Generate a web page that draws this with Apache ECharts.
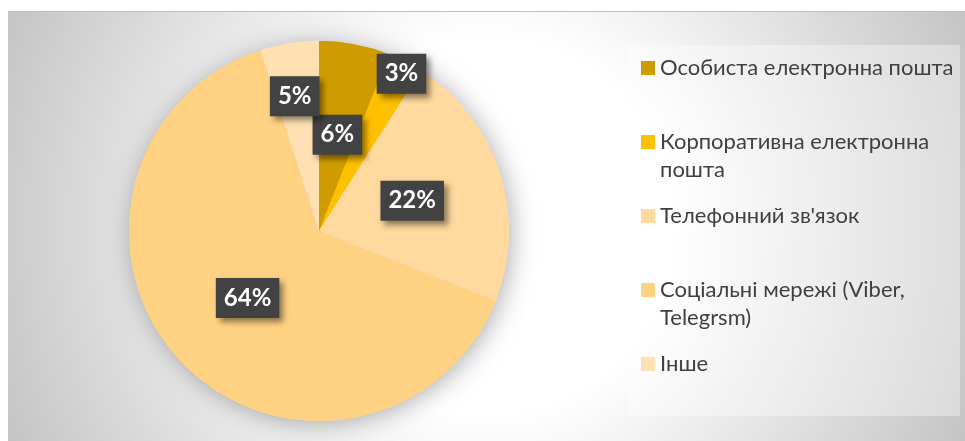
<!DOCTYPE html>
<html>
<head>
<meta charset="utf-8">
<script src="https://cdn.jsdelivr.net/npm/echarts@6/dist/echarts.min.js"></script>
<style>
  html, body { margin: 0; padding: 0; background: #fff; }
  #chart { width: 965px; height: 441px; }
</style>
</head>
<body>
<div id="chart"></div>
<script>
// Chart data
const categories = [
  'Особиста електронна пошта',
  'Корпоративна електронна пошта',
  'Телефонний зв\'язок',
  'Соціальні мережі (Viber, Telegrsm)',
  'Інше'
];
const shares = [6, 3, 22, 64, 5];
const colors = ['#cf9c00', '#ffc000', '#ffd99e', '#ffd283', '#ffe0b3'];
// legend text as it wraps in the picture
const legendLines = [
  'Особиста електронна пошта',
  'Корпоративна електронна\nпошта',
  'Телефонний зв\'язок',
  'Соціальні мережі (Viber,\nTelegrsm)',
  'Інше'
];
// nudges for the two labels that sit off the middle radius
const labelShift = [[0, 0], [38, -70], [0, 0], [0, 0], [-9, -38]];

const chart = echarts.init(document.getElementById('chart'));

const pieData = categories.map((name, i) => ({
  name,
  value: shares[i],
  itemStyle: { color: colors[i] }
}));

const legendTops = [54, 100, 202, 248, 350];
const legends = categories.map((name, i) => {
  const twoLines = legendLines[i].indexOf('\n') >= 0;
  // an empty leading line keeps the icon level with the first text line
  const text = twoLines ? '\n' + legendLines[i] : legendLines[i];
  return {
    data: [name],
    orient: 'vertical',
    left: 641,
    top: legendTops[i],
    padding: 0,
    icon: 'rect',
    itemWidth: 14,
    itemHeight: 14,
    selectedMode: false,
    formatter: () => text,
    textStyle: {
      fontFamily: 'Lato',
      fontSize: 22,
      lineHeight: 28,
      color: '#404040'
    }
  };
});

const option = {
  animation: false,
  backgroundColor: '#fff',
  graphic: [
    {
      type: 'rect',
      shape: { x: 8, y: 11, width: 957, height: 430 },
      style: {
        fill: {
          type: 'radial', x: 0.5, y: 0.5, r: 1.25,
          colorStops: [
            { offset: 0, color: '#ffffff' },
            { offset: 0.35, color: '#ffffff' },
            { offset: 1, color: '#c2c2c2' }
          ]
        }
      },
      z: -10,
      silent: true
    },
    {
      type: 'rect',
      shape: { x: 8, y: 11, width: 957, height: 1 },
      style: { fill: '#bdbdbd' },
      z: -9,
      silent: true
    },
    {
      type: 'rect',
      shape: { x: 628, y: 45, width: 332, height: 371 },
      style: { fill: 'rgba(255,255,255,0.35)' },
      z: -8,
      silent: true
    }
  ],
  legend: legends,
  series: [
    {
      type: 'pie',
      center: [319, 231],
      radius: 190,
      startAngle: 90,
      clockwise: true,
      avoidLabelOverlap: false,
      z: 3,
      data: pieData,
      label: {
        show: true,
        position: 'inside',
        formatter: '{d}%',
        fontFamily: 'Lato',
        fontWeight: 'bold',
        fontSize: 24,
        color: '#fff',
        backgroundColor: '#424242',
        padding: [8, 8],
        shadowColor: 'rgba(0,0,0,0.45)',
        shadowBlur: 6,
        shadowOffsetX: 4,
        shadowOffsetY: 4
      },
      labelLine: { show: false },
      labelLayout: (params) => ({
        dx: labelShift[params.dataIndex][0],
        dy: labelShift[params.dataIndex][1]
      }),
      emphasis: { disabled: true }
    },
    {
      // soft outer shadow drawn under the pie
      type: 'pie',
      center: [319, 231],
      radius: 190,
      startAngle: 90,
      silent: true,
      z: 1,
      data: pieData,
      label: { show: false },
      labelLine: { show: false },
      itemStyle: {
        shadowColor: 'rgba(0,0,0,0.3)',
        shadowBlur: 25,
        shadowOffsetX: 3,
        shadowOffsetY: 3
      },
      emphasis: { disabled: true }
    }
  ]
};

chart.setOption(option);
window.addEventListener('resize', () => chart.resize());
</script>
</body>
</html>
